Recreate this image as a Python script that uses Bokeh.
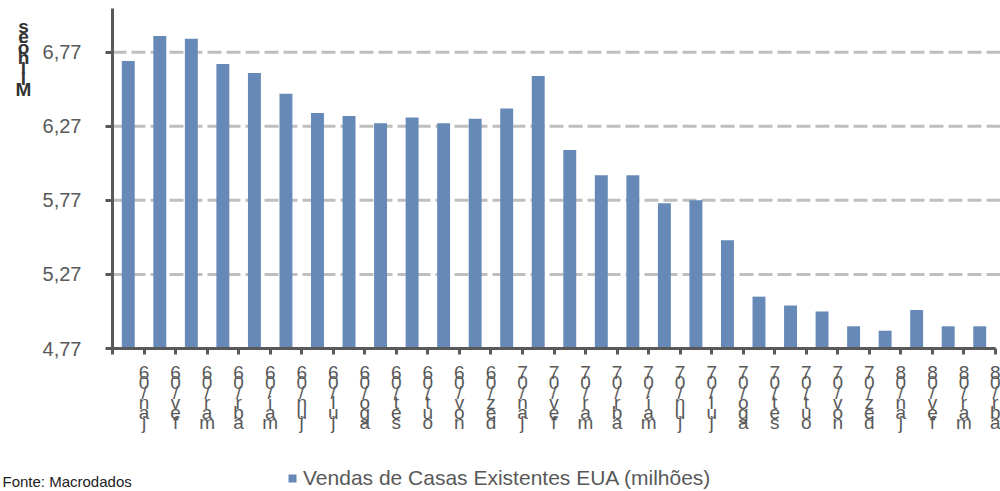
from bokeh.plotting import figure
from bokeh.models import Range1d, FixedTicker, Legend, LegendItem, Label
from bokeh.embed import file_html
from bokeh.resources import INLINE

# ---- data ----
months = ["jan", "fev", "mar", "abr", "mai", "jun", "jul", "ago", "set", "out", "nov", "dez"]
categories = ([f"{m}/06" for m in months] + [f"{m}/07" for m in months] +
              [f"{m}/08" for m in months[:4]])
sales = [6.71, 6.88, 6.86, 6.69, 6.63, 6.49, 6.36, 6.34, 6.29, 6.33, 6.29, 6.32,
         6.39, 6.61, 6.11, 5.94, 5.94, 5.75, 5.77, 5.50, 5.12, 5.06, 5.02, 4.92,
         4.89, 5.03, 4.92, 4.92]
y_ticks = [4.77, 5.27, 5.77, 6.27, 6.77]
y_tick_labels = ["4,77", "5,27", "5,77", "6,27", "6,77"]
series_name = "Vendas de Casas Existentes EUA (milhões)"
y_title = "Milhões"
source_note = "Fonte: Macrodados"

# ---- layout (the frame covers the whole canvas; axes are pinned inside) ----
W, H = 1000, 491
n = len(categories)
Y_MIN, Y_MAX = 4.77, 7.065          # axis extent
AX_LEFT, AX_RIGHT, AX_TOP, AX_BOTTOM = 112, 995, 8, 348   # pixel box of the axes
px_x = (AX_RIGHT - AX_LEFT) / n
px_y = (AX_BOTTOM - AX_TOP) / (Y_MAX - Y_MIN)
X_LO = -AX_LEFT / px_x
X_HI = n + (W - AX_RIGHT) / px_x
Y_LO = Y_MIN - (H - AX_BOTTOM) / px_y
Y_HI = Y_MAX + AX_TOP / px_y

def dx(px):
    return X_LO + px / px_x

def dy(py):
    return Y_HI - py / px_y

FONT = "Liberation Sans"
GRAY = "#595959"

p = figure(width=W, height=H, x_range=Range1d(X_LO, X_HI), y_range=Range1d(Y_LO, Y_HI),
           min_border=0, output_backend="svg", toolbar_location=None)
p.outline_line_color = None
p.background_fill_color = "white"
p.border_fill_color = "white"

# horizontal dashed grid lines, from the y axis to the right end
p.xgrid.visible = False
p.ygrid.visible = False
grid_vals = y_ticks[1:]
p.segment(x0=[0] * len(grid_vals), x1=[X_HI] * len(grid_vals), y0=grid_vals, y1=grid_vals,
          line_color="#BFBFBF", line_width=3, line_dash="14 5")

xs = [i + 0.5 for i in range(n)]
bars = p.vbar(x=xs, top=sales, bottom=Y_MIN, width=0.41, color="#6689B8",
              line_color=None)

# x axis
xax = p.xaxis[0]
xax.fixed_location = Y_MIN
xax.bounds = (0, n)
xax.ticker = FixedTicker(ticks=list(range(n + 1)))
overrides = {0: ""}
for i, c in enumerate(categories):
    overrides[i + 1] = "\n".join(reversed(c))
xax.major_label_overrides = overrides
xax.major_label_orientation = "horizontal"
xax.major_label_text_align = "center"
xax.major_label_text_font = FONT
xax.major_label_text_font_size = "19px"
xax.major_label_text_line_height = 0.48
xax.major_label_text_color = GRAY
xax.major_label_standoff = 7
xax.major_tick_out = 6
xax.major_tick_in = 0
xax.minor_tick_out = 0
xax.minor_tick_in = 0

# y axis
yax = p.yaxis[0]
yax.fixed_location = 0
yax.bounds = (Y_MIN, Y_MAX)
yax.ticker = FixedTicker(ticks=y_ticks)
yax.major_label_overrides = dict(zip(y_ticks, y_tick_labels))
yax.major_label_text_font = FONT
yax.major_label_text_font_size = "20px"
yax.major_label_text_color = GRAY
yax.major_label_standoff = 24
yax.major_tick_out = 7
yax.major_tick_in = 0
yax.minor_tick_out = 0
yax.minor_tick_in = 0

for ax in (xax, yax):
    ax.axis_line_color = GRAY
    ax.axis_line_width = 3
    ax.major_tick_line_color = GRAY
    ax.major_tick_line_width = 3

# stacked y title
p.add_layout(Label(x=dx(23), y=dy(15), text="\n".join(reversed(y_title)),
                   text_font=FONT, text_font_size="19px", text_font_style="bold",
                   text_color="#333333", text_align="center", text_baseline="top",
                   text_line_height=0.5))

# legend
lg = Legend(items=[LegendItem(label=series_name, renderers=[bars])],
            location=(287, 1), orientation="horizontal")
lg.padding = 0
lg.margin = 0
lg.spacing = 0
lg.border_line_color = None
lg.background_fill_alpha = 0
lg.glyph_width = 10
lg.glyph_height = 10
lg.label_standoff = 6
lg.label_text_font = FONT
lg.label_text_font_size = "21px"
lg.label_text_color = GRAY
p.add_layout(lg, "center")

# source note
p.add_layout(Label(x=dx(2), y=dy(489), text=source_note, text_font=FONT,
                   text_font_size="15px", text_color="#222222",
                   text_align="left", text_baseline="bottom"))

open("out.html", "w").write(file_html(p, INLINE))
